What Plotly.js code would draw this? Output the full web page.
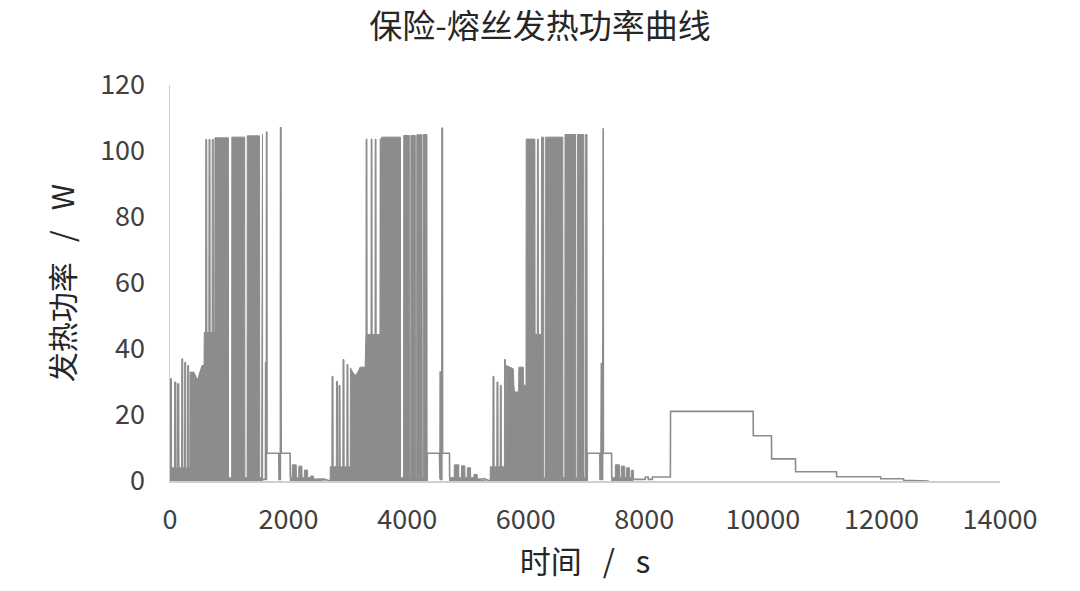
<!DOCTYPE html>
<html>
<head>
<meta charset="utf-8">
<script src="https://cdn.plot.ly/plotly-3.0.1.min.js"></script>
<style>html,body{margin:0;padding:0;background:#fff;}#chart{width:1080px;height:591px;}</style>
</head>
<body>
<div id="chart"></div>
<script>
// Chart texts
var chartTitle = '保险-熔丝发热功率曲线';
var xAxisTitle = '时间\u00a0\u00a0\u00a0/\u00a0\u00a0\u00a0s';
var yAxisTitle = '发热功率\u00a0\u00a0\u00a0/\u00a0\u00a0\u00a0W';
var xTickValues = [0, 2000, 4000, 6000, 8000, 10000, 12000, 14000];
var yTickValues = [0, 20, 40, 60, 80, 100, 120];

// Dense (rapidly switching) regions: envelope of the power signal, time in s, power in W
var denseTime = [
  0,0,25,28, 75,78,100,103, 125,128,150,153, 195,198,215,218, 245,248,265,268, 295,298,315,318,
  335,338,400,430,460,500,540,574, 577,600,603,620,623, 655,658,675,678, 710,713,730,733,
  755,758,985,988, 1040,1043,1260,1263, 1300,1303,1510,1513, 1545,1548,1560,1563, null,
  2029,2029,2060,2063,2130,2133,2170,2173,2225,2228,2265,2268,2320,2323,2370,2373,2420,2423, null,
  2700,2703, 2730,2733,2750,2753, 2805,2808,2825,2828, 2848,2851,2868,2871, 2915,2918,2935,2938,
  2982,2985,3002,3005, 3040,3043,3080,3128,3170,3206,3291, 3294,3305,3308,3322,3325,
  3390,3393,3407,3410, 3458,3461,3475,3478, 3542,3545,3559,3562, 3566,3569,3887,3890,
  3940,3943,4036,4039, 4060,4063,4137,4140, 4160,4163,4250,4253, 4270,4273,4334,4337, null,
  4717,4717,4793,4796,4870,4873,4915,4918,4973,4976,5013,5016,5069,5072,5125,5128,5181,5184, null,
  5400,5403, 5445,5448,5465,5468, 5512,5515,5532,5535, 5568,5571,5588,5591, 5640,5643,5660,5663,
  5670,5673,5790,5800,5810,5880,5884,5960,5965,6005, 6008,6155,6158, 6195,6198,6212,6215,
  6263,6266,6303,6306, 6334,6337,6625,6628, 6660,6663,6840,6843, 6868,6871,6980,6983, 7008,7011,7034,7037, null,
  7451,7451,7510,7513,7580,7583,7610,7613,7670,7673,7700,7703,7750,7753,7780,7783,7815,7818
];
var denseWatt = [
  0,31,31,4, 4,30,30,4, 4,29.5,29.5,4, 4,37,37,4, 4,36,36,4, 4,35,35,4,
  4,33,33,32,30.5,33,35,35, 45,45,103.5,103.5,45, 45,103.5,103.5,45, 45,103.5,103.5,45,
  45,104,104,1, 1,104.2,104.2,1, 1,104.6,104.6,1, 1,105,105,0, null,
  0,1,1,4.9,4.9,1,1,4.5,4.5,1,1,3.3,3.3,1,1,1.5,1.5,0.5, null,
  0,4.3, 4.3,31.7,31.7,4.3, 4.3,30.2,30.2,4.3, 4.3,29,29,4.3, 4.3,36.8,36.8,4.3,
  4.3,35.3,35.3,4.3, 4.3,34.3,33,32,33,34.5,34.5, 44.4,44.4,103.6,103.6,44.4,
  44.4,103.6,103.6,44.4, 44.4,103.6,103.6,44.4, 44.4,103.6,103.6,44.4, 44.4,104.2,104.2,1,
  1,104.7,104.7,1, 1,104.7,104.7,1, 1,104.9,104.9,1, 1,105,105,0, null,
  0,1,1,4.9,4.9,1,1,4.6,4.6,1,1,4,4,1,1,2,2,0.5, null,
  0,4.3, 4.3,31.7,31.7,4.3, 4.3,30,30,4.3, 4.3,29,29,4.3, 4.3,36.8,36.8,4.3,
  4.3,35,34,29,27,27,34.5,34.5,29,29, 103.6,103.6,44.4, 44.4,103.6,103.6,44.4,
  44.4,104.2,104.2,1, 1,104.2,104.2,1, 1,105,105,1, 1,105,105,1, 1,105,105,0, null,
  0,1,1,4.9,4.9,1,1,4.5,4.5,1,1,4,4,1,1,3.3,3.3,0.5
];

// Step / spike / baseline parts of the power signal (not filled)
var lineTime = [
  1563,1610,1613,1618,1621,1626,1629,1634,1637,1835,1838,1862,1865,1872,1875,2026,2029, null,
  2423,2600,2700, null,
  4337,4340,4545,4548,4554,4557,4562,4565,4585,4588,4595,4598,4714,4717, null,
  5184,5300,5400, null,
  7037,7040,7250,7253,7268,7271,7276,7279,7297,7300,7307,7310,7448,7451, null,
  7818,8018,8021,8065,8068,8136,8139,8440,8443,9836,9839,10145,10148,10550,10553,
  11242,11245,11985,11988,12373,12376,12744,12747,12800
];
var lineWatt = [
  0.5,0.5,35.8,35.8,0.5,0.5,105.7,105.7,8.4,8.4,0.5,0.5,107,107,8.4,8.4,1, null,
  0.5,0.6,0, null,
  0,8.4,8.4,0.5,0.5,33,33,0.5,0.5,106.9,106.9,8.4,8.4,1, null,
  0.5,0.7,0, null,
  0,8.4,8.4,0.5,0.5,35.8,35.8,0.5,0.5,106.9,106.9,8.4,8.4,1, null,
  0.5,0.5,1.2,1.2,0.5,0.5,1.2,1.2,21.1,21.1,13.7,13.7,6.7,6.7,2.8,
  2.8,1.3,1.3,0.7,0.7,0.2,0.2,0,0
];

var gray = '#8c8c8c';
var fontFam = '"Noto Sans CJK SC", "Noto Sans", sans-serif';

var traces = [
  {
    x: denseTime, y: denseWatt, type: 'scatter', mode: 'lines',
    fill: 'tozeroy', fillcolor: gray, connectgaps: false,
    line: {color: gray, width: 1}, hoverinfo: 'skip', showlegend: false
  },
  {
    x: lineTime, y: lineWatt, type: 'scatter', mode: 'lines', connectgaps: false,
    line: {color: gray, width: 1.6}, hoverinfo: 'skip', showlegend: false
  }
];

var layout = {
  width: 1080, height: 591,
  margin: {l: 170, r: 80, t: 85, b: 110},
  paper_bgcolor: '#ffffff', plot_bgcolor: '#ffffff',
  font: {family: fontFam, color: '#404040'},
  title: {
    text: chartTitle, font: {size: 33, color: '#262626', family: fontFam},
    xref: 'container', x: 0.5, xanchor: 'center',
    yref: 'container', y: 0.955, yanchor: 'middle'
  },
  xaxis: {
    range: [0, 14000], tickvals: xTickValues, ticktext: xTickValues.map(String),
    showgrid: false, zeroline: false, showline: true, linecolor: '#d0d0d0', linewidth: 1.5,
    ticks: 'outside', ticklen: 14, tickcolor: 'rgba(0,0,0,0)',
    tickfont: {size: 27, color: '#404040', family: fontFam},
    title: {text: xAxisTitle, font: {size: 31, color: '#262626', family: fontFam}, standoff: 12},
    fixedrange: true
  },
  yaxis: {
    range: [0, 120], tickvals: yTickValues, ticktext: yTickValues.map(String),
    showgrid: false, zeroline: false, showline: true, linecolor: '#d0d0d0', linewidth: 1.5,
    ticks: 'outside', ticklen: 18, tickcolor: 'rgba(0,0,0,0)',
    tickfont: {size: 27, color: '#404040', family: fontFam},
    title: {text: yAxisTitle, font: {size: 30, color: '#262626', family: fontFam}, standoff: 16},
    fixedrange: true
  }
};

Plotly.newPlot('chart', traces, layout, {displayModeBar: false, staticPlot: true});
</script>
</body>
</html>
